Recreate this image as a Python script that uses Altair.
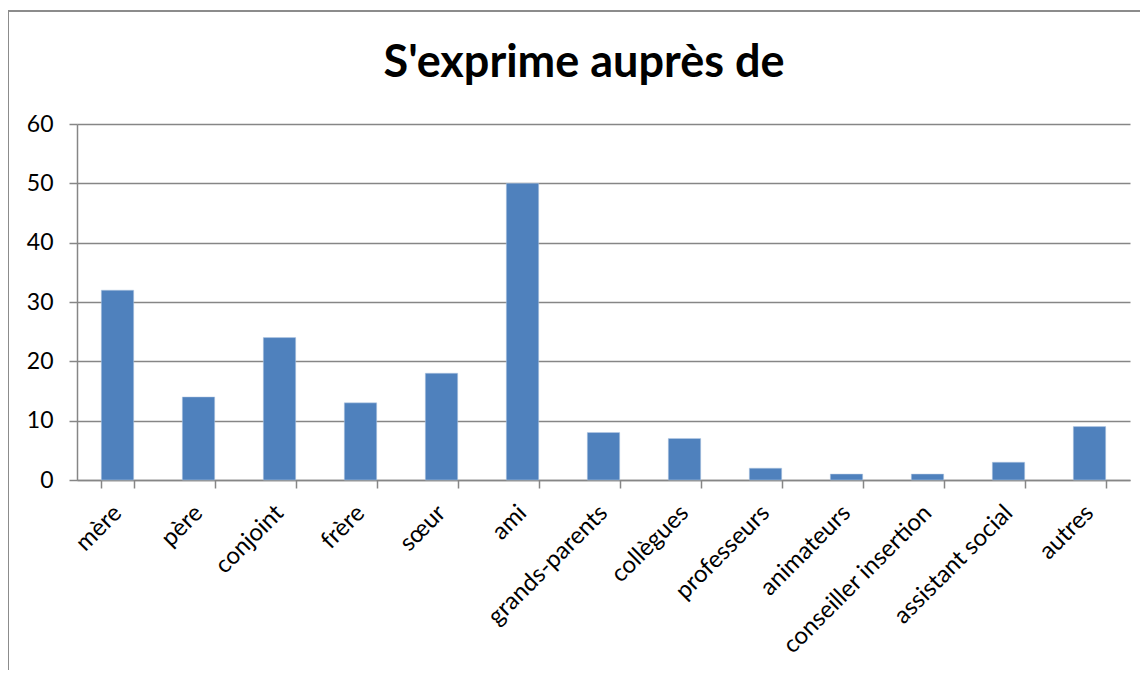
import altair as alt
import pandas as pd

categories = ["mère", "père", "conjoint", "frère", "sœur", "ami", "grands-parents",
              "collègues", "professeurs", "animateurs", "conseiller insertion",
              "assistant social", "autres"]
values = [32, 14, 24, 13, 18, 50, 8, 7, 2, 1, 1, 3, 9]
title_text = "S'exprime auprès de"

df = pd.DataFrame({"cat": categories, "val": values})
FONT = "Lato"

bars = alt.Chart(df).mark_bar(color="#4F81BD", stroke="#b9cde5", strokeWidth=0.5).encode(
    x=alt.X("cat:N", sort=categories, title=None,
            scale=alt.Scale(paddingInner=0.6, paddingOuter=0.3),
            axis=alt.Axis(labelAngle=-45, labelAlign="right", labelBaseline="middle",
                          labelFontSize=24, labelFont=FONT, labelColor="#000000",
                          labelPadding=21, tickBand="extent", ticks=True, tickSize=8,
                          tickColor="#868686", tickWidth=1.5, domainColor="#868686",
                          domainWidth=1.5, labelOverlap=False, labelLimit=400)),
    y=alt.Y("val:Q", title=None,
            scale=alt.Scale(domain=[0, 60]),
            axis=alt.Axis(values=[0, 10, 20, 30, 40, 50, 60], labelFontSize=23,
                          labelFont=FONT, labelColor="#000000", tickSize=8,
                          tickColor="#868686", tickWidth=1.5, domainColor="#868686",
                          domainWidth=1.5, gridColor="#868686", gridWidth=1.5,
                          labelPadding=16)),
)

title = alt.Chart(pd.DataFrame({"t": [title_text]})).mark_text(
    font=FONT, fontSize=45, fontWeight="bold", color="#000000",
    align="center", baseline="alphabetic").encode(
    text="t:N", x=alt.value(507), y=alt.value(-47))

frame_left = alt.Chart(df).mark_rule(color="#8c8c8c", strokeWidth=1.5).encode(
    x=alt.value(-69), y=alt.value(-113), y2=alt.value(700))
frame_top = alt.Chart(df).mark_rule(color="#8c8c8c", strokeWidth=1.5).encode(
    x=alt.value(-69), x2=alt.value(1200), y=alt.value(-113))

chart = alt.layer(bars, title, frame_left, frame_top).properties(
    width=1053, height=356,
    autosize=alt.AutoSizeParams(type="none"),
    padding={"left": 69, "top": 116, "right": 10, "bottom": 190},
).configure_view(stroke=None)

chart.save("out.html", embed_options={"renderer": "svg", "actions": False})
